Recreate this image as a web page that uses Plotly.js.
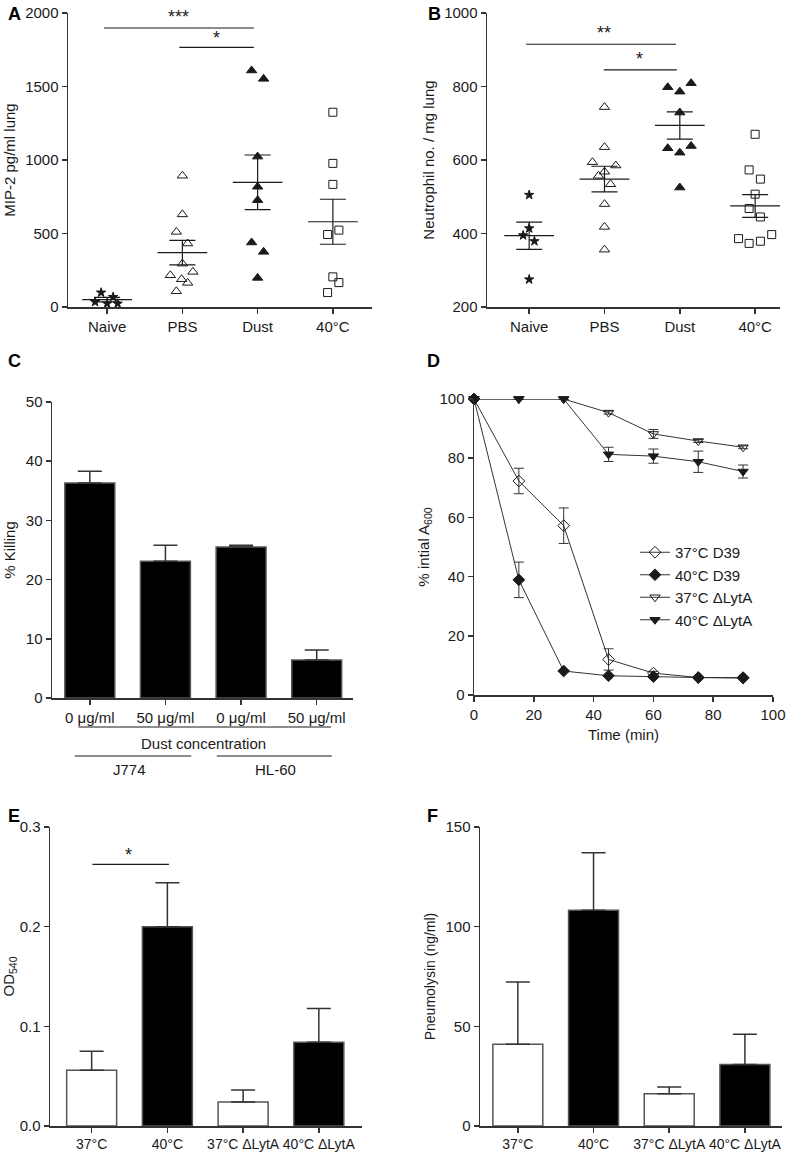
<!DOCTYPE html>
<html>
<head>
<meta charset="utf-8">
<script src="https://cdn.plot.ly/plotly-3.0.1.min.js"></script>
<style>
  html, body { margin: 0; padding: 0; background: #fff; }
  #fig { width: 797px; height: 1154px; }
</style>
</head>
<body>
<div id="fig"></div>
<script>
// ---- data ----
var groupsAB = ["Naive", "PBS", "Dust", "40°C"];

// A: MIP-2 pg/ml lung (values + horizontal scatter offsets per dot)
var aNaive = [34, 98, 23, 68, 23];
var aNaiveJit = [-0.16, -0.08, 0, 0.08, 0.14];
var aPBS = [893, 630, 511, 432, 295, 216, 239, 189, 164, 107];
var aPBSJit = [0, 0, -0.08, 0.07, 0, -0.16, 0.14, -0.01, 0.07, -0.08];
var aDust = [1609, 1552, 1023, 818, 727, 439, 375, 198];
var aDustJit = [-0.08, 0.08, 0, 0, 0, -0.08, 0.08, 0];
var a40 = [1325, 977, 834, 493, 523, 205, 166, 98];
var a40Jit = [0, 0, 0, -0.07, 0.08, 0, 0.08, -0.07];
var aMean = [50, 370, 848, 580];
var aSem = [15, 83, 186, 153];

// B: neutrophil no. / mg lung
var bNaive = [505, 414, 395, 379, 275];
var bNaiveJit = [0, 0, -0.08, 0.07, 0];
var bPBS = [744, 635, 594, 585, 568, 557, 534, 480, 418, 356];
var bPBSJit = [0, 0, -0.16, 0.15, 0, -0.08, 0.08, 0, 0, 0];
var bDust = [798, 786, 809, 729, 632, 620, 638, 525];
var bDustJit = [-0.16, 0, 0.15, 0, -0.16, 0, 0.15, 0];
var b40 = [670, 573, 548, 507, 468, 445, 386, 373, 379, 397];
var b40Jit = [0, -0.08, 0.07, 0, -0.08, 0.07, -0.22, -0.08, 0.07, 0.22];
var bMean = [394, 548, 694, 475];
var bSem = [37, 35, 37, 31];

// C: % killing
var cLabels = ["0 μg/ml", "50 μg/ml", "0 μg/ml", "50 μg/ml"];
var cKill = [36.3, 23.1, 25.5, 6.4];
var cErr = [2.0, 2.7, 0.3, 1.7];

// D: % initial A600 over time
var dTime = [0, 15, 30, 45, 60, 75, 90];
var d37D39 = [100, 72.3, 57.2, 12.0, 7.4, 5.9, 5.7];
var d37D39Err = [0, 4.3, 6.0, 3.6, 0.6, 0, 0];
var d40D39 = [100, 38.9, 8.1, 6.5, 6.2, 5.9, 5.9];
var d40D39Err = [0, 6.0, 0, 0, 0, 0, 0];
var d37Lyt = [100, 100, 100, 95.4, 88.2, 85.8, 83.7];
var d37LytErr = [0, 0, 0, 0.5, 1.5, 0.5, 0.5];
var d40Lyt = [100, 100, 100, 81.3, 80.7, 78.8, 75.5];
var d40LytErr = [0, 0, 0, 2.4, 2.4, 3.6, 2.2];

// E, F: strains
var efLabels = ["37°C", "40°C", "37°C ΔLytA", "40°C ΔLytA"];
var eOD = [0.056, 0.200, 0.024, 0.084];
var eErr = [0.019, 0.044, 0.012, 0.034];
var fPly = [41.0, 108.2, 16.2, 30.8];
var fErr = [31.2, 28.9, 3.4, 15.2];
var efFill = ["#ffffff", "#000000", "#ffffff", "#000000"];

// ---- helpers ----
var INK = "#1a1a1a";
var FONT = "Liberation Sans, Arial, sans-serif";
var FS = 15;
var W = 797, H = 1154;
function px(x) { return x / W; }
function py(y) { return 1 - y / H; }

function dots(xa, ya, idx, vals, jit, symbol, size) {
  return {
    type: "scatter", mode: "markers", xaxis: xa, yaxis: ya, showlegend: false, cliponaxis: false,
    x: vals.map(function (v, i) { return idx + jit[i]; }), y: vals,
    marker: { symbol: symbol, size: size, color: INK, line: { color: INK, width: 1 } },
    hoverinfo: "y"
  };
}
function meanSem(xa, ya, means, sems) {
  var out = [];
  means.forEach(function (m, i) {
    out.push({ type: "scatter", mode: "lines", xaxis: xa, yaxis: ya, showlegend: false, cliponaxis: false,
      x: [i - 0.33, i + 0.33], y: [m, m], line: { color: INK, width: 1.2 }, hoverinfo: "skip" });
  });
  out.push({ type: "scatter", mode: "markers", xaxis: xa, yaxis: ya, showlegend: false, cliponaxis: false,
    x: [0, 1, 2, 3], y: means, marker: { size: 1, opacity: 0 },
    error_y: { type: "data", array: sems, visible: true, color: INK, thickness: 1.2, width: 13 } });
  return out;
}
function bars(xa, ya, vals, errs, fills) {
  return {
    type: "bar", xaxis: xa, yaxis: ya, showlegend: false, x: [0, 1, 2, 3], y: vals, width: 0.66,
    marker: { color: fills, line: { color: "#555", width: 1.5 } },
    error_y: { type: "data", symmetric: false, array: errs, arrayminus: [0, 0, 0, 0], visible: true,
      color: "#333", thickness: 1.5, width: 12 }
  };
}
function lineSeries(name, y, err, symbol) {
  return {
    type: "scatter", mode: "lines+markers", name: name, xaxis: "x4", yaxis: "y4",
    cliponaxis: false, x: dTime, y: y,
    line: { color: "#333", width: 1 },
    marker: { symbol: symbol, size: 9, color: INK, line: { color: INK, width: 1 } },
    error_y: { type: "data", array: err, visible: true, color: "#333", thickness: 1, width: 5 }
  };
}

var traces = []
  .concat([
    dots("x", "y", 0, aNaive, aNaiveJit, "star", 7),
    dots("x", "y", 1, aPBS, aPBSJit, "triangle-up-open", 9),
    dots("x", "y", 2, aDust, aDustJit, "triangle-up", 9),
    dots("x", "y", 3, a40, a40Jit, "square-open", 8)
  ])
  .concat(meanSem("x", "y", aMean, aSem))
  .concat([
    dots("x2", "y2", 0, bNaive, bNaiveJit, "star", 7),
    dots("x2", "y2", 1, bPBS, bPBSJit, "triangle-up-open", 9),
    dots("x2", "y2", 2, bDust, bDustJit, "triangle-up", 9),
    dots("x2", "y2", 3, b40, b40Jit, "square-open", 8)
  ])
  .concat(meanSem("x2", "y2", bMean, bSem))
  .concat([bars("x3", "y3", cKill, cErr, ["#000", "#000", "#000", "#000"])])
  .concat([
    lineSeries("37°C D39", d37D39, d37D39Err, "diamond-open"),
    lineSeries("40°C D39", d40D39, d40D39Err, "diamond"),
    lineSeries("37°C ΔLytA", d37Lyt, d37LytErr, "triangle-down-open"),
    lineSeries("40°C ΔLytA", d40Lyt, d40LytErr, "triangle-down")
  ])
  .concat([bars("x5", "y5", eOD, eErr, efFill), bars("x6", "y6", fPly, fErr, efFill)]);

function xAx(domain, anchor, range, tickvals, ticktext, tfs) {
  var ax = { domain: domain, anchor: anchor, range: range, showline: true, linecolor: "#333", linewidth: 1.5,
    ticks: "outside", ticklen: 5, tickwidth: 1.5, tickcolor: "#333", showgrid: false, zeroline: false,
    tickangle: 0, tickfont: { size: tfs || FS, color: INK }, fixedrange: true };
  if (tickvals) { ax.tickmode = "array"; ax.tickvals = tickvals; ax.ticktext = ticktext; }
  return ax;
}
function yAx(domain, anchor, range, dtick, title, tsize) {
  return { domain: domain, anchor: anchor, range: range, dtick: dtick, tick0: 0, showline: true, linecolor: "#333",
    linewidth: 1.5, ticks: "outside", ticklen: 5, tickwidth: 1.5, tickcolor: "#333", showgrid: false,
    zeroline: false, tickfont: { size: FS, color: INK }, fixedrange: true,
    title: { text: title, font: { size: tsize || FS, color: INK }, standoff: 6 } };
}

var rowA = [py(307), py(13)], rowC = [py(698), py(402)], rowD = [py(695), py(399)], rowE = [py(1126), py(827)];

function letter(t, x, y) {
  return { text: "<b>" + t + "</b>", xref: "paper", yref: "paper", x: px(x), y: py(y), xanchor: "left",
    yanchor: "middle", showarrow: false, font: { size: 18, color: "#000" } };
}
function star(t, xa, ya, x, y) {
  return { text: t, xref: xa, yref: ya, x: x, y: y, showarrow: false, font: { size: 18, color: INK } };
}
function sig(xa, ya, x0, x1, y) {
  return { type: "line", xref: xa, yref: ya, x0: x0, x1: x1, y0: y, y1: y, line: { color: INK, width: 1.2 } };
}
function paperText(t, xa, x, y) {
  return { text: t, xref: xa, yref: "paper", x: x, y: py(y), showarrow: false, font: { size: FS, color: INK } };
}
function paperLine(xa, x0, x1, y) {
  return { type: "line", xref: xa, yref: "paper", x0: x0, x1: x1, y0: py(y), y1: py(y),
    line: { color: INK, width: 1.2 } };
}

var layout = {
  width: W, height: H, margin: { l: 0, r: 0, t: 0, b: 0 },
  paper_bgcolor: "#fff", plot_bgcolor: "#fff",
  font: { family: FONT, color: INK, size: FS },
  xaxis: xAx([px(68), px(372)], "y", [-0.52, 3.52], [0, 1, 2, 3], groupsAB),
  yaxis: yAx(rowA, "x", [0, 2000], 500, "MIP-2 pg/ml lung"),
  xaxis2: xAx([px(487), px(780)], "y2", [-0.56, 3.33], [0, 1, 2, 3], groupsAB),
  yaxis2: yAx(rowA, "x2", [200, 1000], 200, "Neutrophil no. / mg lung"),
  xaxis3: xAx([px(52), px(353)], "y3", [-0.5, 3.48], [0, 1, 2, 3], cLabels),
  yaxis3: yAx(rowC, "x3", [0, 50], 10, "% Killing"),
  xaxis4: Object.assign(xAx([px(474), px(773)], "y4", [0, 100]), { dtick: 20, tick0: 0,
    title: { text: "Time (min)", font: { size: FS, color: INK }, standoff: 8 } }),
  yaxis4: yAx(rowD, "x4", [0, 100], 20, "% intial A<sub>600</sub>"),
  xaxis5: xAx([px(50), px(362)], "y5", [-0.55, 3.57], [0, 1, 2, 3], efLabels, 14),
  yaxis5: Object.assign(yAx(rowE, "x5", [0, 0.3], 0.1, "OD<sub>540</sub>"), { tickformat: ".1f" }),
  xaxis6: xAx([px(480), px(782)], "y6", [-0.5, 3.49], [0, 1, 2, 3], efLabels, 14),
  yaxis6: yAx(rowE, "x6", [0, 150], 50, "Pneumolysin (ng/ml)", 14),
  showlegend: true,
  legend: { x: px(635), y: py(536), xanchor: "left", yanchor: "top", bgcolor: "rgba(0,0,0,0)",
    font: { size: FS, color: INK }, itemwidth: 30, tracegroupgap: 0 },
  bargap: 0.3,
  shapes: [
    sig("x", "y", -0.04, 1.95, 1898), sig("x", "y", 0.96, 1.95, 1766),
    sig("x2", "y2", -0.04, 1.95, 915), sig("x2", "y2", 0.99, 1.96, 845),
    sig("x5", "y5", 0.01, 1.02, 0.2625),
    paperLine("x3", -0.15, 3.19, 727),
    paperLine("x3", -0.2, 1.34, 756), paperLine("x3", 1.68, 3.2, 756)
  ],
  annotations: [
    letter("A", 6, 14), letter("B", 426, 14), letter("C", 6, 361), letter("D", 425, 361),
    letter("E", 6, 816), letter("F", 425, 816),
    star("***", "x", "y", 0.95, 1975), star("*", "x", "y", 1.46, 1830),
    star("**", "x2", "y2", 0.99, 945), star("*", "x2", "y2", 1.47, 874),
    star("*", "x5", "y5", 0.48, 0.272),
    paperText("Dust concentration", "x3", 1.5, 743),
    paperText("J774", "x3", 0.53, 769), paperText("HL-60", "x3", 2.45, 769)
  ]
};

Plotly.newPlot("fig", traces, layout, { displayModeBar: false, staticPlot: true });
</script>
</body>
</html>
